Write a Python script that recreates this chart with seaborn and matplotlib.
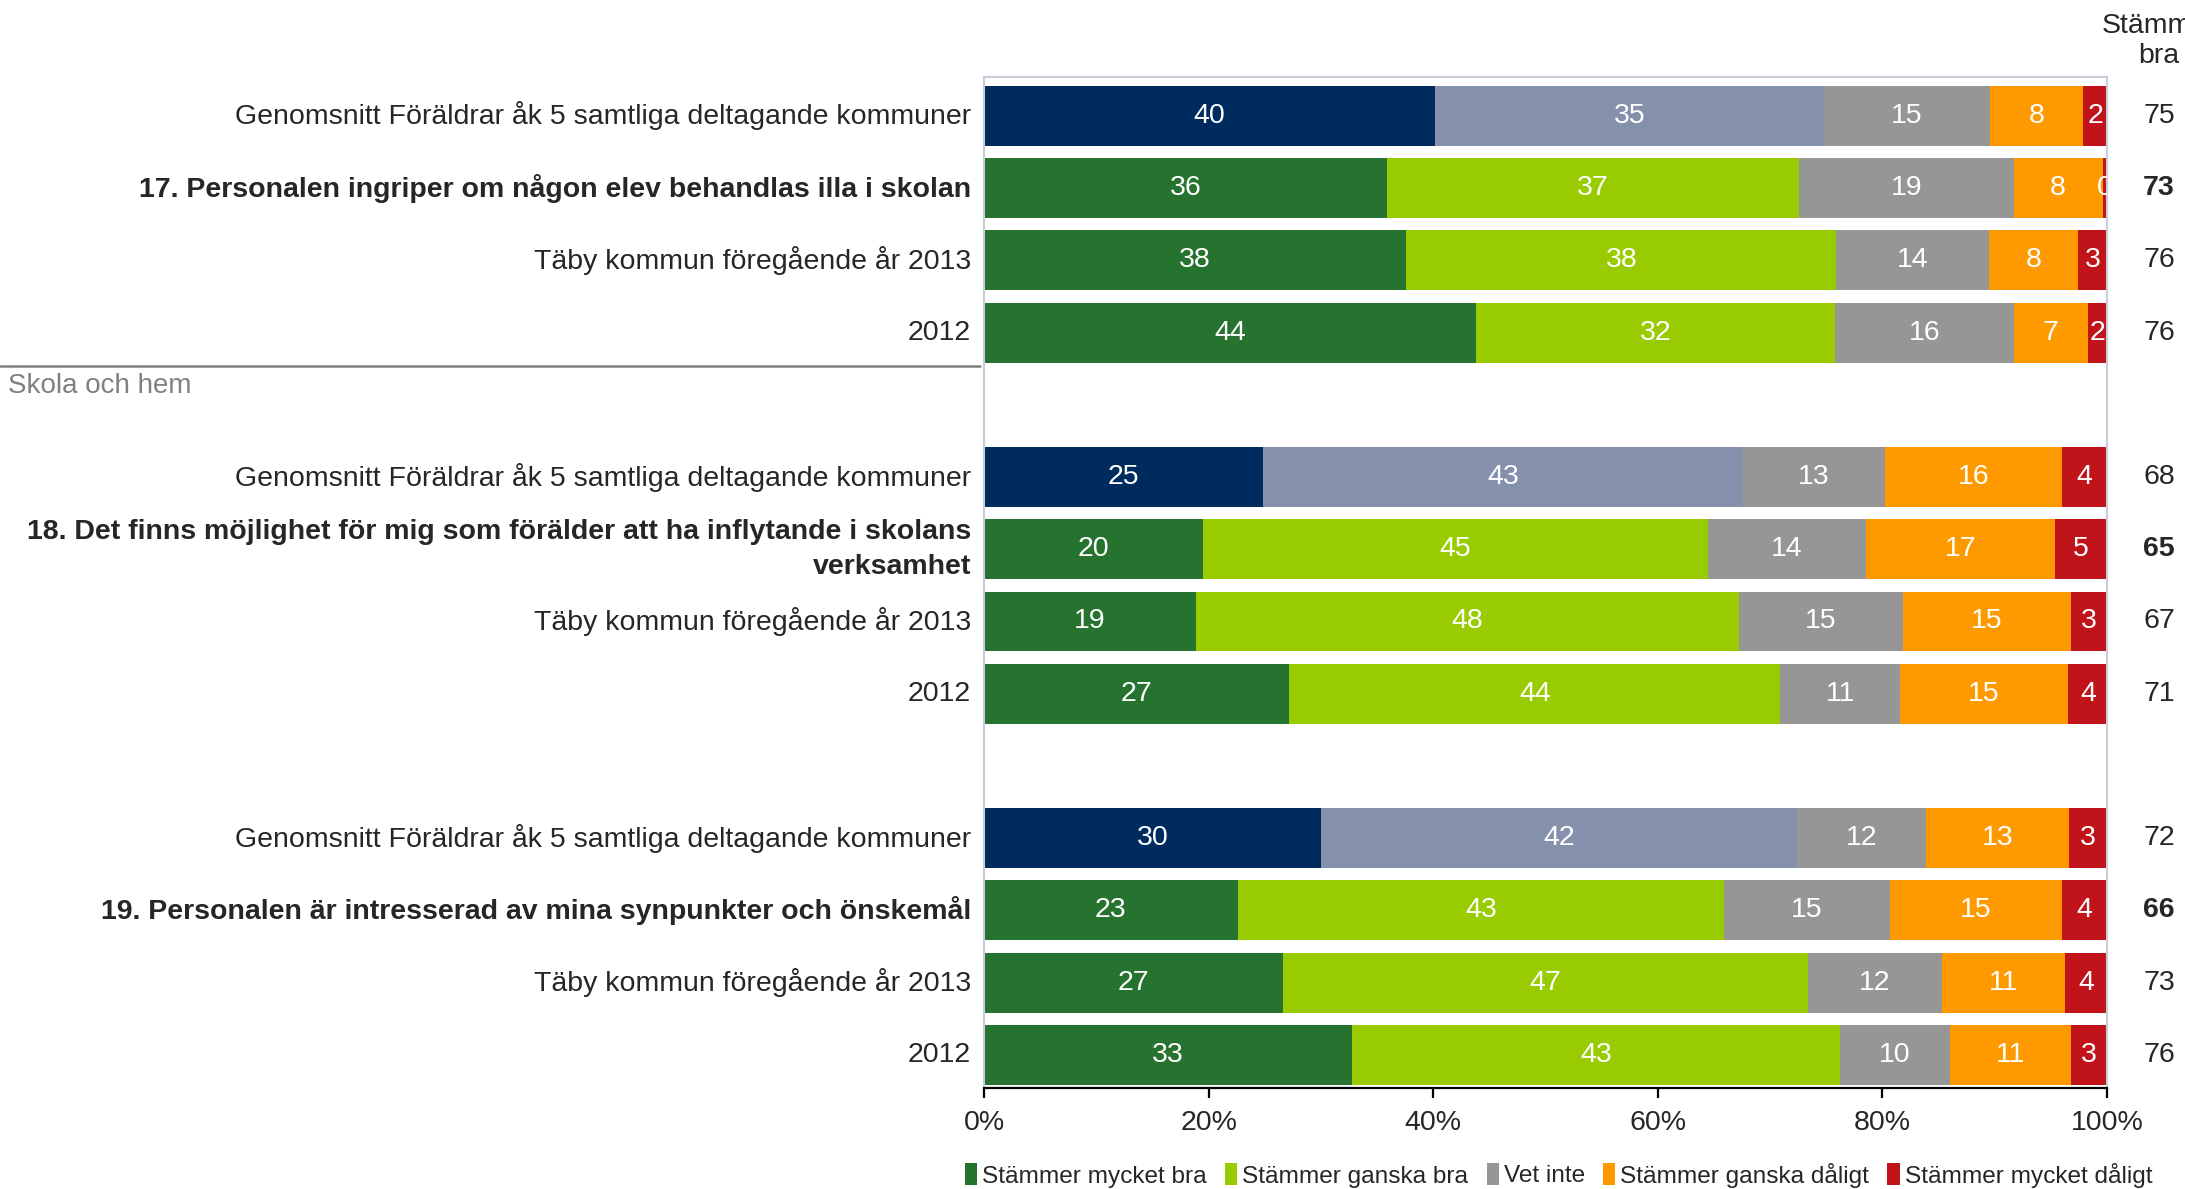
import numpy as np
import pandas as pd
import matplotlib
matplotlib.use("Agg")
import matplotlib.pyplot as plt
from matplotlib.patches import Patch
from matplotlib.lines import Line2D
import matplotlib.transforms as mtransforms
import seaborn as sns

# rows from top to bottom
row_labels = [
    "Genomsnitt Föräldrar åk 5 samtliga deltagande kommuner",
    "17. Personalen ingriper om någon elev behandlas illa i skolan",
    "Täby kommun föregående år 2013",
    "2012",
    "Genomsnitt Föräldrar åk 5 samtliga deltagande kommuner",
    "18. Det finns möjlighet för mig som förälder att ha inflytande i skolans\nverksamhet",
    "Täby kommun föregående år 2013",
    "2012",
    "Genomsnitt Föräldrar åk 5 samtliga deltagande kommuner",
    "19. Personalen är intresserad av mina synpunkter och önskemål",
    "Täby kommun föregående år 2013",
    "2012",
]
row_kind = ["avg", "q", "prev", "prev"] * 3
row_slot = [0, 1, 2, 3, 5, 6, 7, 8, 10, 11, 12, 13]

mycket_bra = [40.2, 35.9, 37.6, 43.8, 24.8, 19.5, 18.9, 27.2, 30.0, 22.6, 26.6, 32.8]
ganska_bra = [34.6, 36.7, 38.3, 32.0, 42.8, 45.0, 48.3, 43.7, 42.4, 43.3, 46.8, 43.4]
vet_inte = [14.8, 19.1, 13.6, 15.9, 12.6, 14.0, 14.6, 10.7, 11.5, 14.8, 11.9, 9.8]
ganska_daligt = [8.3, 7.9, 7.9, 6.6, 15.8, 16.9, 15.0, 14.9, 12.7, 15.3, 11.0, 10.8]
mycket_daligt = [2.1, 0.4, 2.6, 1.7, 4.0, 4.6, 3.2, 3.6, 3.4, 4.0, 3.7, 3.2]
agree_total = [75, 73, 76, 76, 68, 65, 67, 71, 72, 66, 73, 76]

series_names = ["Stämmer mycket bra", "Stämmer ganska bra", "Vet inte",
                "Stämmer ganska dåligt", "Stämmer mycket dåligt"]
colors = ["#267330", "#99cc00", "#969696", "#ff9900", "#c0141a"]
avg_colors = ["#002b5e", "#8590ac"]

df = pd.DataFrame({
    "label": row_labels, "kind": row_kind, "slot": row_slot,
    series_names[0]: mycket_bra, series_names[1]: ganska_bra,
    series_names[2]: vet_inte, series_names[3]: ganska_daligt,
    series_names[4]: mycket_daligt, "total": agree_total,
})

sns.set_style("white")
plt.rcParams["font.family"] = ["Liberation Sans", "DejaVu Sans"]

fig = plt.figure(figsize=(21.85, 11.89), dpi=100)
ax = fig.add_axes([984 / 2185, 1 - 1088 / 1189, 1123 / 2185, 1011 / 1189])

fs = 20.5
left = np.zeros(len(df))
for i, name in enumerate(series_names):
    vals = df[name].values
    cols = []
    for k in df["kind"]:
        if k == "avg" and i < 2:
            cols.append(avg_colors[i])
        else:
            cols.append(colors[i])
    ax.barh(df["slot"], vals, left=left, height=0.83, color=cols, linewidth=0)
    for y, l, v in zip(df["slot"], left, vals):
        ax.text(l + v / 2, y, "%d" % round(v), ha="center", va="center",
                color="white", fontsize=fs, clip_on=True)
    left = left + vals

ax.set_xlim(0, 100)
ax.set_ylim(13.46, -0.54)
ax.set_yticks([])
ax.set_xticks([0, 20, 40, 60, 80, 100])
ax.set_xticklabels(["%d%%" % t for t in [0, 20, 40, 60, 80, 100]], fontsize=fs)
ax.tick_params(axis="x", direction="out", length=7, width=1.6, color="black", pad=9, bottom=True)
for s in ["left", "top", "right"]:
    ax.spines[s].set_color("#c9cdd9")
    ax.spines[s].set_linewidth(1.5)
ax.spines["bottom"].set_color("black")
ax.spines["bottom"].set_linewidth(1.6)

# row labels on the left and totals on the right
trans_l = mtransforms.blended_transform_factory(fig.transFigure, ax.transData)
trans_r = mtransforms.blended_transform_factory(ax.transAxes, ax.transData)
for _, r in df.iterrows():
    bold = r["kind"] == "q"
    fig.text(971 / 2185, r["slot"], r["label"], ha="right", va="center",
             fontsize=fs, fontweight="bold" if bold else "normal",
             transform=trans_l, linespacing=1.45)
    ax.text(1.0463, r["slot"], "%d" % r["total"], ha="center", va="center",
            fontsize=fs, fontweight="bold" if bold else "normal",
            transform=trans_r, clip_on=False)

fig.text(2159 / 2185, 1 - 41 / 1189, "Stämmer\nbra", ha="center", va="center",
         fontsize=fs, linespacing=1.2)

# section separator
fig.add_artist(Line2D([0, 980 / 2185], [1 - 366 / 1189] * 2, color="#808080", linewidth=1.8))
fig.text(8 / 2185, 1 - 386 / 1189, "Skola och hem", ha="left", va="center",
         fontsize=20, color="#808080")

handles = [Patch(facecolor=c, edgecolor="none") for c in colors]
fig.legend(handles, series_names, loc="center left", bbox_to_anchor=(965 / 2185, 1 - 1175 / 1189),
           ncol=5, frameon=False, fontsize=17.6, handlelength=0.5, handleheight=1.0,
           handletextpad=0.2, columnspacing=0.75, borderaxespad=0, borderpad=0)

fig.savefig("out.png", dpi=100)
